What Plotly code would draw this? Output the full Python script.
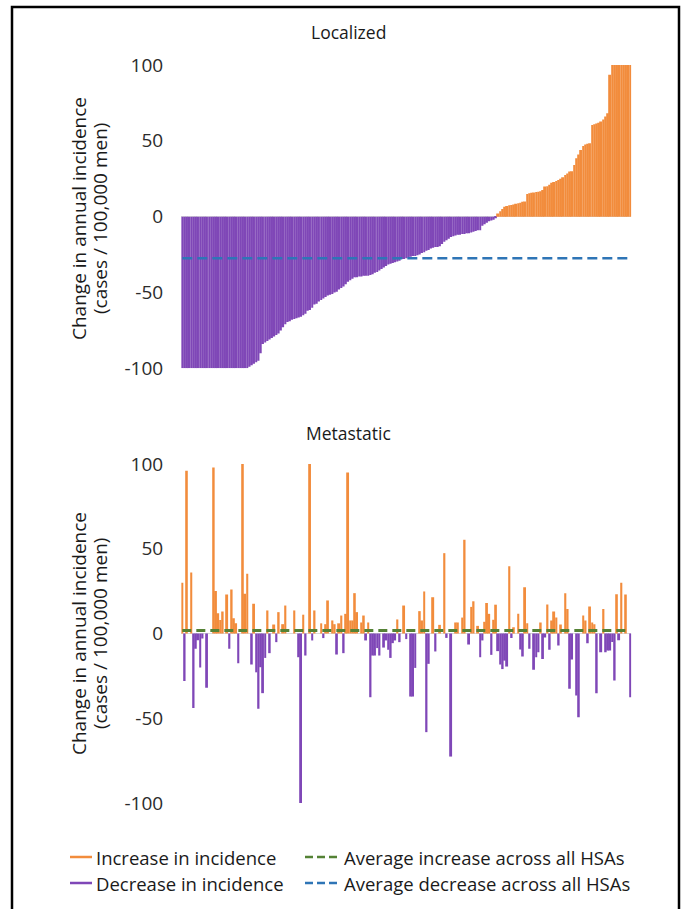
import plotly.graph_objects as go

W, H = 682, 909

# ---------------- data ----------------
localized = [
    -100, -100, -100, -100, -100, -100, -100, -100, -100, -100,
    -100, -100, -100, -100, -100, -100, -100, -100, -100, -100,
    -100, -100, -100, -100, -100, -100, -100, -100, -100, -100,
    -99, -98, -97, -96, -95, -90, -84, -83, -82, -81,
    -80, -79, -78, -77, -75, -73, -71, -69.5, -69, -68,
    -67.5, -67, -66.5, -66, -65, -64, -62, -61.5, -60, -58,
    -57.5, -56, -55, -54, -53, -52, -51.5, -51, -50, -49.5,
    -48, -47, -46, -44.5, -43, -42, -41, -40, -40, -39.5,
    -39.5, -39, -39, -39, -38.5, -38, -37, -36.5, -35.5, -34.5,
    -33.5, -32.5, -31.5, -31, -30.5, -30, -29.5, -29, -28, -28,
    -27.5, -27, -26.5, -26, -26, -25.5, -25, -24, -23.5, -22.5,
    -22, -21, -20.5, -20, -20, -19.5, -18, -16.5, -15.5, -14.5,
    -13.5, -13, -12.5, -12, -12, -11.5, -11.5, -11, -11, -10.5,
    -10, -9.5, -9, -9, -6, -5, -4, -3, -2.5, -2,
    -1, 2, 3.5, 5, 6.5, 7, 7.5, 7.7, 8, 8.5,
    8.8, 9.2, 9.9, 10, 15, 15.5, 15.7, 16, 16.2, 16.5,
    16.7, 17.6, 19.8, 20, 21, 22.4, 22.8, 23.5, 24.2, 25,
    26, 27.5, 28.5, 29.7, 30, 34, 38.5, 41, 44, 46.6,
    47.5, 48, 48.4, 60.5, 61, 61.5, 62, 62.7, 64, 66,
    68.2, 93.5, 100, 100, 100, 100, 100, 100, 100, 100,
    100,
]

metastatic = [
    30, -28, 96, 0, 36, -44, -9, -4, -20, -3,
    0, -32, 0, 0, 98, 25, 12, 8, 13, 0,
    23, -9, 26, 9, 6, -17.5, 0, 100, 23.4, 35.2,
    0, -18.3, 17.6, -22.9, -44.4, -19.9, -35.2, -14.4, 13.6, -11.6,
    0, 5.3, -5.1, 12.6, 0, 5.5, 16.5, 0, 0, 0,
    13.6, 0, -14, -100, 11.1, -13, 0, 100, -4.1, 13.6,
    0, 0, 6, -2.7, 5.5, 19.5, 0, 7.7, 5.5, -12.4,
    6, 10.6, -11.6, 11.6, 95, 7.7, 7.7, 23.8, 12.6, 0,
    6.5, 10.6, -4.1, 6.5, -37.6, -13, -13, -8.6, -13, 0,
    -8.3, -4.1, -9.6, -14.4, -5.7, -4.1, 8.3, -5.1, 0, 16.5,
    -3.3, 0, -37.2, -37.2, -20.3, 0, 13.2, 7.7, 24.8, -58.2,
    -17.9, 0, 21.4, -10.6, 0, 5.1, 0, 47.4, -2.6, 0,
    -72.6, 0, 6.5, 6.5, 0, 9.4, 55.3, 0, -6.5, 15.7,
    19, 0, 4.5, -14, -4.1, 6.9, 18, 11.6, -12.6, 8.1,
    17, -10.4, -18.3, -21, -16, -19.5, 39.7, -2.6, 3.7, 0,
    11.6, -9.4, -13.6, 27.3, 6, -9, 0, -21.4, -14, -11,
    6.5, -15, -2.4, 17.1, -9.6, 7.7, 13, 9.4, -7.1, 5.3,
    0, 23.8, 14.5, -32.6, -15.3, 0, -36.6, -49.4, 0, 10.6,
    7.7, -5.7, 15.9, 6.5, 5.5, -35.2, 0, -11, 14.5, -11,
    -10, -10, -5, -27.7, 23.2, -4, 29.9, 0, 23, 0,
    -37.6,
]

localized_avg_decrease = -27.4
metastatic_avg_increase = 1.8

tick_vals = [-100, -50, 0, 50, 100]
tick_text = ["-100", "-50", "0", "50", "100"]

panel_titles = ["Localized", "Metastatic"]
y_title_1 = "Change in annual incidence"
y_title_2 = "(cases / 100,000 men)"
legend_labels = ["Increase in incidence", "Decrease in incidence",
                 "Average increase across all HSAs", "Average decrease across all HSAs"]

# ---------------- style ----------------
ORANGE = "#F28C3C"
PURPLE = "#7F47B7"
GREEN = "#548235"
BLUE = "#2E75B6"
FONT = "Open Sans"
TXT = "#2b2b2b"


def px_x(p):
    return p / W


def px_y(p):
    return 1 - p / H


fig = go.Figure()

for k, vals in enumerate([localized, metastatic]):
    ax = "" if k == 0 else "2"
    idx = list(range(len(vals)))
    colors = [ORANGE if v > 0 else PURPLE for v in vals]
    fig.add_trace(go.Bar(x=idx, y=vals, marker=dict(color=colors, line=dict(width=0)),
                         xaxis="x" + ax, yaxis="y" + ax, showlegend=False,
                         hoverinfo="x+y"))

n1 = len(localized)
fig.add_trace(go.Scatter(x=[0, n1 - 1], y=[localized_avg_decrease] * 2, mode="lines",
                         line=dict(color=BLUE, width=2.5, dash="10px,5px"),
                         xaxis="x", yaxis="y", showlegend=False))
n2 = len(metastatic)
fig.add_trace(go.Scatter(x=[0, n2 - 1], y=[metastatic_avg_increase] * 2, mode="lines",
                         line=dict(color=GREEN, width=3, dash="9px,5px"),
                         xaxis="x2", yaxis="y2", showlegend=False))

xdom = [px_x(181.2), px_x(631.4)]
yaxis_common = dict(range=[-100, 100], tickvals=tick_vals, ticktext=tick_text,
                    showgrid=False, showline=False, ticks="", zeroline=True,
                    zerolinecolor="#d9d9d9", zerolinewidth=1,
                    tickfont=dict(family=FONT, size=19, color=TXT),
                    ticklabelstandoff=17, fixedrange=True)
xaxis_common = dict(range=[-0.5, n1 - 0.5], domain=xdom, showgrid=False, showline=False,
                    showticklabels=False, ticks="", zeroline=False, fixedrange=True)

fig.update_layout(
    width=W, height=H,
    margin=dict(l=0, r=0, t=0, b=0, autoexpand=False),
    paper_bgcolor="white", plot_bgcolor="white",
    bargap=0.12,
    showlegend=False,
    xaxis=dict(**xaxis_common, anchor="y"),
    xaxis2=dict(**xaxis_common, anchor="y2"),
    yaxis=dict(**yaxis_common, domain=[px_y(368.3), px_y(65)], anchor="x"),
    yaxis2=dict(**yaxis_common, domain=[px_y(803), px_y(464)], anchor="x2"),
)

annotations = []
for t, yp in zip(panel_titles, [32, 433]):
    annotations.append(dict(text=t, x=px_x(348), y=px_y(yp), xref="paper", yref="paper",
                            showarrow=False, xanchor="center", yanchor="middle",
                            font=dict(family=FONT, size=17.5, color="#1a1a1a")))
for yc in [219, 634]:
    annotations.append(dict(text=y_title_1, x=px_x(79), y=px_y(yc), xref="paper", yref="paper",
                            showarrow=False, textangle=-90, xanchor="center", yanchor="middle",
                            font=dict(family=FONT, size=19, color="#1a1a1a")))
    annotations.append(dict(text=y_title_2, x=px_x(100), y=px_y(yc), xref="paper", yref="paper",
                            showarrow=False, textangle=-90, xanchor="center", yanchor="middle",
                            font=dict(family=FONT, size=19, color="#1a1a1a")))

# legend (manual, two rows x two columns)
leg_items = [
    (legend_labels[0], ORANGE, "solid", 70, 857),
    (legend_labels[1], PURPLE, "solid", 70, 883),
    (legend_labels[2], GREEN, "dash", 305, 857),
    (legend_labels[3], BLUE, "dash", 305, 883),
]
shapes = []
for label, col, dash, x0, yc in leg_items:
    L = 22 if dash == "solid" else 35
    shapes.append(dict(type="line", xref="paper", yref="paper",
                       x0=px_x(x0), x1=px_x(x0 + L), y0=px_y(yc), y1=px_y(yc),
                       line=dict(color=col, width=2.5,
                                 dash="solid" if dash == "solid" else "8px,4px")))
    annotations.append(dict(text=label, x=px_x(x0 + L + 2), y=px_y(yc), xref="paper", yref="paper",
                            showarrow=False, xanchor="left", yanchor="middle",
                            font=dict(family=FONT, size=18.5, color="#1a1a1a")))

# outer frame
shapes.append(dict(type="rect", xref="paper", yref="paper",
                   x0=px_x(12), x1=px_x(679), y0=px_y(915), y1=px_y(7),
                   line=dict(color="black", width=2.5), fillcolor="rgba(0,0,0,0)"))

fig.update_layout(annotations=annotations, shapes=shapes)

fig.write_html("out.html",
               config={"displayModeBar": False},
               post_script="document.body.style.margin='0px';"
                           "document.body.style.overflow='hidden';")
